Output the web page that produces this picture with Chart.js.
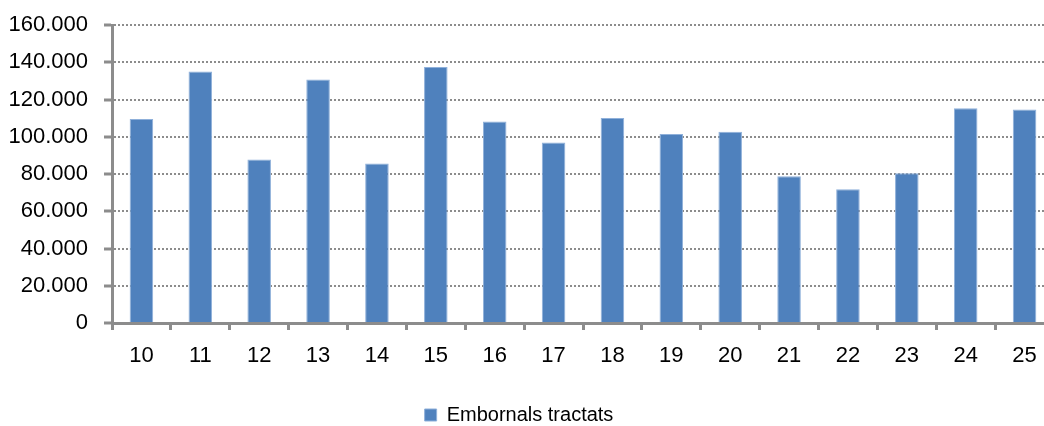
<!DOCTYPE html>
<html>
<head>
<meta charset="utf-8">
<script src="https://cdn.jsdelivr.net/npm/chart.js@4.4.0/dist/chart.umd.min.js"></script>
<style>
  html, body { margin: 0; padding: 0; background: #fff; overflow: hidden; }
  #wrap { position: relative; width: 1044px; height: 426px; overflow: hidden; }
  #c { position: absolute; left: -16px; top: -4px; }
</style>
</head>
<body>
<div id="wrap"><canvas id="c" width="1070" height="439"></canvas></div>
<script>
const categories = ['10','11','12','13','14','15','16','17','18','19','20','21','22','23','24','25'];
const seriesName = 'Embornals tractats';
const seriesValues = [109600, 135100, 87900, 130800, 85700, 137600, 108300, 97000, 110100, 101600, 102700, 78900, 71900, 80400, 115400, 114700];
const yTickLabels = ['0','20.000','40.000','60.000','80.000','100.000','120.000','140.000','160.000'];

const FONT = "'Liberation Sans', Arial, sans-serif";
const AXIS = '#8c8c8c';

new Chart(document.getElementById('c'), {
  type: 'bar',
  data: {
    labels: categories,
    datasets: [{
      label: seriesName,
      data: seriesValues,
      backgroundColor: '#4F81BD',
      borderColor: '#8fb0da',
      borderWidth: 1,
      barPercentage: 0.4,
      categoryPercentage: 1.0
    }]
  },
  options: {
    responsive: false,
    animation: false,
    devicePixelRatio: 1,
    layout: { padding: { top: 13, right: 0, left: 0, bottom: 0 } },
    plugins: {
      tooltip: { enabled: false },
      legend: {
        position: 'bottom',
        labels: {
          font: { family: FONT, size: 20 },
          color: '#000',
          boxWidth: 12,
          boxHeight: 12,
          padding: 0
        }
      }
    },
    scales: {
      x: {
        afterFit: (s) => { s.height = 82; },
        grid: {
          offset: true,
          drawOnChartArea: false,
          drawTicks: true,
          tickLength: 7,
          tickWidth: 3,
          tickColor: AXIS
        },
        border: { display: true, color: AXIS, width: 3 },
        ticks: {
          font: { family: FONT, size: 22 },
          color: '#000',
          padding: 13,
          maxRotation: 0
        }
      },
      y: {
        min: 0,
        max: 160000,
        afterFit: (s) => { s.width = 128; },
        grid: {
          color: AXIS,
          lineWidth: 2,
          drawTicks: true,
          tickLength: 8,
          tickWidth: 3,
          tickColor: AXIS,
          tickBorderDash: []
        },
        border: { display: true, color: AXIS, width: 3, dash: [2, 2] },
        ticks: {
          stepSize: 20000,
          font: { family: FONT, size: 22 },
          color: '#000',
          padding: 16,
          callback: (v, i) => yTickLabels[i]
        }
      }
    }
  }
});
</script>
</body>
</html>
